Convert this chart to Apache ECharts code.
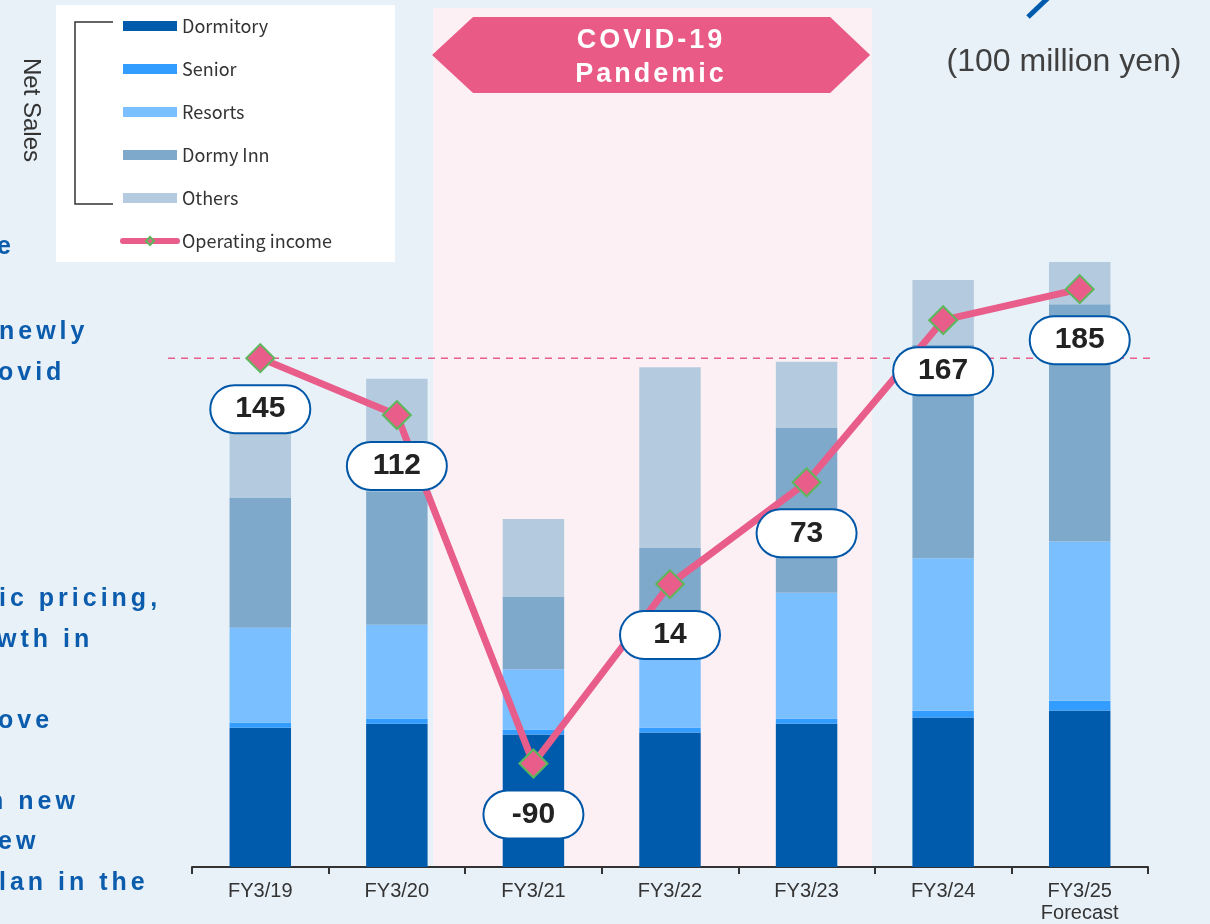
<!DOCTYPE html>
<html>
<head>
<meta charset="utf-8">
<script src="https://cdn.jsdelivr.net/npm/echarts@6/dist/echarts.min.js"></script>
<style>
  html, body { margin: 0; padding: 0; background: #e8f1f8; }
  #wrap { position: relative; width: 1210px; height: 924px; overflow: hidden; }
  #chart { position: absolute; left: 0; top: 0; width: 1210px; height: 924px; }
  .side {
    position: absolute; white-space: nowrap; pointer-events: none;
    font-family: "Liberation Sans", Arial, sans-serif; font-weight: bold;
    font-size: 25px; letter-spacing: 4px; color: #0b5cad; line-height: 28px;
  }
  .banner {
    position: absolute; left: 432px; width: 438px; text-align: center; pointer-events: none;
    font-family: "Liberation Sans", Arial, sans-serif; font-weight: bold;
    font-size: 27px; letter-spacing: 3px; color: #fff; line-height: 30px;
  }
</style>
</head>
<body>
<div id="wrap">
  <div id="chart"></div>
  <!-- text of the slide cut off on the left -->
  <div class="side" style="left:-3px;top:231px">e</div>
  <div class="side" style="left:-1px;top:316px">newly</div>
  <div class="side" style="left:-2px;top:357px">ovid</div>
  <div class="side" style="left:-1px;top:583px">ic pricing,</div>
  <div class="side" style="left:-3px;top:624px">wth in</div>
  <div class="side" style="left:-2px;top:705px">ove</div>
  <div class="side" style="left:-12px;top:786px">n new</div>
  <div class="side" style="left:-2px;top:826px">ew</div>
  <div class="side" style="left:-1px;top:867px">lan in the</div>
  <div class="banner" style="top:24px">COVID-19</div>
  <div class="banner" style="top:58px">Pandemic</div>
</div>
<script>
// 数据（单位：1亿日元）
const categories = ['FY3/19', 'FY3/20', 'FY3/21', 'FY3/22', 'FY3/23', 'FY3/24', 'FY3/25\nForecast'];
const dormitory = [545, 561, 518, 526, 561, 585, 612];
const senior = [20, 20, 20, 20, 20, 26, 39];
const resorts = [371, 367, 236, 312, 492, 597, 623];
const dormyInn = [510, 522, 283, 392, 647, 835, 928];
const others = [304, 441, 305, 706, 257, 254, 165];
const operatingIncome = [145, 112, -90, 14, 73, 167, 185];
const refLevel = 145; // 虚线基准

const barColors = {
  Dormitory: '#005bac',
  Senior: '#339dff',
  Resorts: '#7abfff',
  'Dormy Inn': '#7fa9cb',
  Others: '#b4cbdf'
};
const pink = '#e85d8a';

const chart = echarts.init(document.getElementById('chart'));

const barSeries = [
  ['Dormitory', dormitory],
  ['Senior', senior],
  ['Resorts', resorts],
  ['Dormy Inn', dormyInn],
  ['Others', others]
].map(([name, data]) => ({
  name: name,
  type: 'bar',
  stack: 'sales',
  barWidth: '45%',
  data: data,
  itemStyle: { color: barColors[name] },
  emphasis: { disabled: true }
}));

chart.setOption({
  animation: false,
  backgroundColor: '#e8f1f8',
  grid: { left: 192, right: 62, top: 177, bottom: 57 },
  legend: {
    left: 115,
    top: 11,
    orient: 'vertical',
    selectedMode: false,
    itemWidth: 54,
    itemHeight: 10,
    itemGap: 23,
    textStyle: { fontSize: 18, color: '#333', lineHeight: 20, fontFamily: 'Noto Sans CJK JP' },
    data: [
      { name: 'Dormitory', icon: 'rect' },
      { name: 'Senior', icon: 'rect' },
      { name: 'Resorts', icon: 'rect' },
      { name: 'Dormy Inn', icon: 'rect' },
      { name: 'Others', icon: 'rect' },
      { name: 'Operating income', lineStyle: { width: 6, cap: 'round' } }
    ]
  },
  xAxis: {
    type: 'category',
    data: categories,
    axisLine: { lineStyle: { color: '#333', width: 2 } },
    axisTick: { show: true, interval: 0, length: 7, lineStyle: { color: '#333', width: 2 } },
    axisLabel: {
      margin: 13,
      fontSize: 20,
      lineHeight: 22,
      color: '#333',
      fontFamily: 'Liberation Sans'
    }
  },
  yAxis: [
    { type: 'value', min: 0, max: 2700, show: false, splitLine: { show: false } },
    { type: 'value', min: -150, max: 250, show: false, splitLine: { show: false } }
  ],
  series: barSeries.concat([{
    name: 'Operating income',
    type: 'line',
    yAxisIndex: 1,
    data: operatingIncome,
    symbol: 'diamond',
    symbolSize: 28,
    lineStyle: { color: pink, width: 7 },
    itemStyle: { color: pink, borderColor: '#5cb85c', borderWidth: 2 },
    emphasis: { disabled: true },
    z: 5,
    label: {
      show: true,
      position: 'bottom',
      distance: 13,
      color: '#222',
      fontSize: 30,
      fontWeight: 'bold',
      fontFamily: 'Liberation Sans',
      backgroundColor: '#fff',
      borderColor: '#0057a8',
      borderWidth: 2,
      borderRadius: 23,
      width: 94,
      align: 'center',
      lineHeight: 32,
      padding: [7, 2]
    }
  }])
});

// 装饰：疫情区间、虚线、图例框等
const cx = (i) => chart.convertToPixel({ xAxisIndex: 0 }, categories[i]);
const cat = cx(1) - cx(0);
const baseY = chart.convertToPixel({ yAxisIndex: 0 }, 0);
const refY = chart.convertToPixel({ yAxisIndex: 1 }, refLevel);
const covidLeft = cx(2) - 0.735 * cat;
const covidRight = cx(4) + 0.48 * cat;

chart.setOption({
  graphic: [
    {
      type: 'rect', z: 0, silent: true,
      shape: { x: covidLeft, y: 8, width: covidRight - covidLeft, height: baseY - 8 },
      style: { fill: '#fcf0f5' }
    },
    {
      type: 'polygon', z: 1, silent: true,
      shape: { points: [[covidLeft - 1, 55], [covidLeft + 40, 17], [covidRight - 42, 17], [covidRight - 2, 55], [covidRight - 42, 93], [covidLeft + 40, 93]] },
      style: { fill: '#e95a87' }
    },
    {
      type: 'line', z: 1, silent: true,
      shape: { x1: 168, y1: refY, x2: 1152, y2: refY },
      style: { stroke: pink, lineWidth: 1.5, lineDash: [7, 6] }
    },
    {
      type: 'rect', z: 1, silent: true,
      shape: { x: 56, y: 5, width: 339, height: 257 },
      style: { fill: '#ffffff' }
    },
    {
      type: 'polyline', z: 2, silent: true,
      shape: { points: [[113, 22], [75, 22], [75, 204], [113, 204]] },
      style: { stroke: '#333', lineWidth: 1.5, fill: null }
    },
    {
      type: 'text', z: 2, silent: true,
      x: 31, y: 110, rotation: -Math.PI / 2,
      style: {
        text: 'Net Sales', fill: '#333', fontSize: 24,
        fontFamily: 'Liberation Sans', align: 'center', verticalAlign: 'middle'
      }
    },
    {
      type: 'text', z: 2, silent: true,
      x: 1064, y: 62,
      style: {
        text: '(100 million yen)', fill: '#404040', fontSize: 32,
        fontFamily: 'Liberation Sans', align: 'center', verticalAlign: 'middle'
      }
    },
    {
      type: 'line', z: 2, silent: true,
      shape: { x1: 1049, y1: -3, x2: 1028, y2: 17 },
      style: { stroke: '#005bac', lineWidth: 5 }
    }
  ]
});
</script>
</body>
</html>
